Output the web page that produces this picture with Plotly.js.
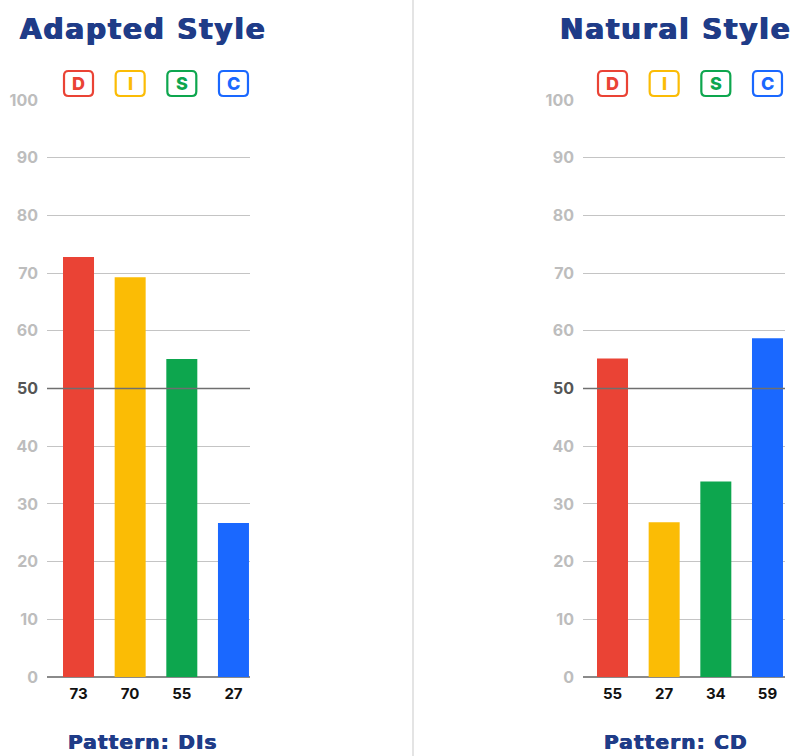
<!DOCTYPE html>
<html>
<head>
<meta charset="utf-8">
<script src="https://cdn.plot.ly/plotly-3.0.1.min.js"></script>
<style>html,body{margin:0;padding:0;background:#fff;}#chart{width:795px;height:756px;}</style>
</head>
<body>
<div id="chart"></div>
<script>
// ---- data ----
const categories = ["D", "I", "S", "C"];
const barColors = ["#EA4335", "#FBBC05", "#0DA64E", "#1A68FF"];
const adaptedValues = [72.8, 69.3, 55.1, 26.7];
const adaptedLabels = ["73", "70", "55", "27"];
const naturalValues = [55.2, 26.8, 33.9, 58.7];
const naturalLabels = ["55", "27", "34", "59"];
const yTickVals = [0, 10, 20, 30, 40, 50, 60, 70, 80, 90, 100];
const titles = ["Adapted Style", "Natural Style"];
const patterns = ["Pattern: DIs", "Pattern: CD"];

const FONT = "Inter, DejaVu Sans, sans-serif";
const HEAD = "DejaVu Sans, Verdana, sans-serif";
const NAVY = "#1F3C88";
const idx = categories.map((c, i) => i);

const yTickText = yTickVals.map(v => v === 50 ? '<span style="color:#555555">50</span>' : String(v));

function bar(values, xa, ya) {
  return {
    type: "bar", x: idx, y: values, xaxis: xa, yaxis: ya,
    marker: {color: barColors, line: {width: 0}},
    width: 0.6, hoverinfo: "skip", showlegend: false
  };
}

const yBase = {
  range: [0, 100], tickvals: yTickVals, ticktext: yTickText,
  showgrid: true, gridcolor: "#c4c4c4", gridwidth: 1,
  zeroline: true, zerolinecolor: "#8a8a8a", zerolinewidth: 1.5,
  showline: false, ticks: "", ticklabelstandoff: 8,
  tickfont: {family: FONT, size: 16, color: "#bdbdbd", weight: 700},
  fixedrange: true
};
const yDom = [79/756, 656/756];

function xAxis(domain, range, labels) {
  return {
    domain: domain, range: range, tickvals: idx, ticktext: labels,
    showgrid: false, zeroline: false, showline: false, ticks: "",
    ticklabelstandoff: 6,
    tickfont: {family: FONT, size: 15, color: "#111111", weight: 700},
    fixedrange: true
  };
}

const shapes = [];
const annotations = [];

// separator
shapes.push({type: "line", xref: "paper", yref: "paper", x0: 413/795, x1: 413/795, y0: 0, y1: 1,
  line: {color: "#e4e4e4", width: 2}});

// emphasised 50 line
["x", "x2"].forEach((xa, k) => {
  const ya = k === 0 ? "y" : "y2";
  shapes.push({type: "line", xref: xa + " domain", yref: ya, x0: 0, x1: 1, y0: 50, y1: 50,
    line: {color: "#6f6f6f", width: 1.5}, layer: "above"});
});

// badges
const pxPerUnit = 51.67;
function roundRect(cx, xh, y0, y1, rx, ry) {
  const l = cx - xh, r = cx + xh;
  return `M${l + rx},${y1} L${r - rx},${y1} Q${r},${y1} ${r},${y1 - ry} L${r},${y0 + ry} Q${r},${y0} ${r - rx},${y0} ` +
         `L${l + rx},${y0} Q${l},${y0} ${l},${y0 + ry} L${l},${y1 - ry} Q${l},${y1} ${l + rx},${y1} Z`;
}
["x", "x2"].forEach(xa => {
  categories.forEach((c, i) => {
    const y0 = (756 - 96) / 756, y1 = (756 - 71) / 756;
    shapes.push({type: "path", xref: xa, yref: "paper",
      path: roundRect(i, 14.5 / pxPerUnit, y0, y1, 4.5 / pxPerUnit, 4.5 / 756),
      line: {color: barColors[i], width: 2.2}, fillcolor: "#ffffff"});
    annotations.push({xref: xa, yref: "paper", x: i, y: (756 - 83.5) / 756, text: c, showarrow: false,
      xanchor: "center", yanchor: "middle",
      font: {family: FONT, size: 18, color: barColors[i], weight: 800}});
  });
});

// titles and patterns
[[143, titles[0], patterns[0]], [676, titles[1], patterns[1]]].forEach(([cx, t, p]) => {
  annotations.push({xref: "paper", yref: "paper", x: cx / 795, y: (756 - 29) / 756,
    text: '<span style="letter-spacing:1.8px">' + t + '</span>', showarrow: false,
    xanchor: "center", yanchor: "middle",
    font: {family: HEAD, size: 28, color: NAVY, weight: 700,
           shadow: "0.7px 0 0 " + NAVY + ", -0.7px 0 0 " + NAVY}});
  annotations.push({xref: "paper", yref: "paper", x: cx / 795, y: (756 - 742) / 756,
    text: '<span style="letter-spacing:1.2px">' + p + '</span>', showarrow: false,
    xanchor: "center", yanchor: "middle",
    font: {family: HEAD, size: 20, color: NAVY, weight: 700,
           shadow: "0.5px 0 0 " + NAVY + ", -0.5px 0 0 " + NAVY}});
});

const layout = {
  width: 795, height: 756, margin: {l: 0, r: 0, t: 0, b: 0},
  paper_bgcolor: "#ffffff", plot_bgcolor: "rgba(0,0,0,0)",
  showlegend: false, bargap: 0.4,
  xaxis: xAxis([47/795, 250/795], [-0.61, 3.32], adaptedLabels),
  xaxis2: xAxis([583/795, 785/795], [-0.571, 3.339], naturalLabels),
  yaxis: Object.assign({}, yBase, {domain: yDom, anchor: "x"}),
  yaxis2: Object.assign({}, yBase, {domain: yDom, anchor: "x2"}),
  shapes: shapes, annotations: annotations
};
layout.xaxis.anchor = "y";
layout.xaxis2.anchor = "y2";

Plotly.newPlot("chart", [bar(adaptedValues, "x", "y"), bar(naturalValues, "x2", "y2")], layout,
  {displayModeBar: false, staticPlot: true});
</script>
</body>
</html>
